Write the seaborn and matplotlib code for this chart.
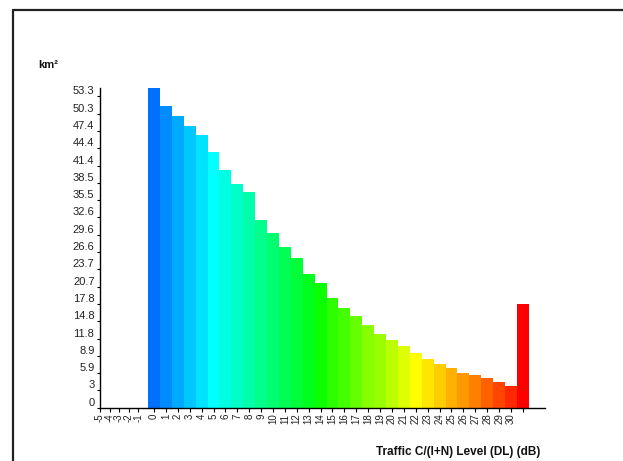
import matplotlib
matplotlib.use("Agg")
import matplotlib.pyplot as plt
import seaborn as sns
import numpy as np
from matplotlib.lines import Line2D

# ---- data ----
levels = ["0", "1", "2", "3", "4", "5", "6", "7", "8", "9", "10", "11", "12", "13", "14", "15",
          "16", "17", "18", "19", "20", "21", "22", "23", "24", "25", "26", "27", "28", "29", "30", ">30"]
area_km2 = [54.7, 51.6, 49.9, 48.2, 46.7, 43.8, 40.7, 38.3, 36.9, 32.1, 29.9, 27.5, 25.6, 22.9, 21.4, 18.8,
            17.1, 15.7, 14.2, 12.6, 11.6, 10.6, 9.4, 8.4, 7.5, 6.8, 6.0, 5.6, 5.1, 4.4, 3.8, 17.8]
neg_labels = ["-5", "-4", "-3", "-2", "-1"]
pos_labels = [str(i) for i in range(0, 31)] + [""]
ytick_vals = [0, 3, 5.9, 8.9, 11.8, 14.8, 17.8, 20.7, 23.7, 26.6, 29.6, 32.6, 35.5, 38.5, 41.4, 44.4, 47.4, 50.3, 53.3]
ytick_labels = ["0", "3", "5.9", "8.9", "11.8", "14.8", "17.8", "20.7", "23.7", "26.6", "29.6",
                "32.6", "35.5", "38.5", "41.4", "44.4", "47.4", "50.3", "53.3"]
colors = ["#0070FF", "#008CFF", "#00AAFF", "#00C8FF", "#00E3FF", "#00FFFF", "#00FFE2", "#00FFC8",
          "#00FFAA", "#00FF8C", "#00FF70", "#00FF55", "#00FF38", "#00FF1C", "#0CFF00", "#2EFF00",
          "#44FF00", "#66FF00", "#88FF00", "#99FF00", "#BBFF00", "#DDFF00", "#FFFF00", "#FFE600",
          "#FFCC00", "#FFB000", "#FF9900", "#FF7F00", "#FF6000", "#FF4500", "#FF2800", "#FF0000"]

sns.set_theme(style="white")
font = ["Liberation Sans Narrow", "Liberation Sans", "DejaVu Sans"]
plt.rcParams["font.family"] = font

W, H = 623, 461
fig = plt.figure(figsize=(W / 100, H / 100), dpi=100)
ax = fig.add_axes([100 / W, 53 / H, 445 / W, 320 / H])

sns.barplot(x=levels, y=area_km2, hue=levels, palette=colors, order=levels, hue_order=levels,
            width=1.0, dodge=False, saturation=1, legend=False, linewidth=0, ax=ax)

ax.set_xlim(-4.54, 32.86)
ax.set_ylim(0, max(area_km2))

neg_pos = [-4.54, -3.74, -2.94, -2.14, -1.34]
ax.set_xticks(neg_pos + list(range(len(levels))))
ax.set_xticklabels(neg_labels + pos_labels, rotation=90, fontsize=7, color="#222222")
ax.set_yticks(ytick_vals)
ax.set_yticklabels(ytick_labels, fontsize=8, color="#222222")
for t in ax.get_yticklabels():
    t.set_va("bottom")

ax.tick_params(axis="x", length=3, width=0.8, color="black", pad=1, bottom=True)
ax.tick_params(axis="y", length=2, width=0.8, color="black", pad=2, left=True)
for s in ["top", "right"]:
    ax.spines[s].set_visible(False)
for s in ["left", "bottom"]:
    ax.spines[s].set_color("black")
    ax.spines[s].set_linewidth(1.0)
ax.set_xlabel("")
ax.set_ylabel("")
ax.grid(False)

fig.text(38 / W, 1 - 65 / H, "km²", fontsize=8, fontweight="bold", va="center", ha="left", color="#111111")
fig.text(458 / W, 1 - 452 / H, "Traffic C/(I+N) Level (DL) (dB)", fontsize=8.5, fontweight="bold",
         va="center", ha="center", color="#111111")

# outer frame (left and top edges visible)
fig.add_artist(Line2D([12.5 / W, 12.5 / W], [0, 1 - 10.5 / H], color="#222222", lw=1.6, transform=fig.transFigure))
fig.add_artist(Line2D([12.5 / W, 1], [1 - 10.5 / H, 1 - 10.5 / H], color="#222222", lw=1.6, transform=fig.transFigure))

fig.savefig("out.png", dpi=100, facecolor="white")
